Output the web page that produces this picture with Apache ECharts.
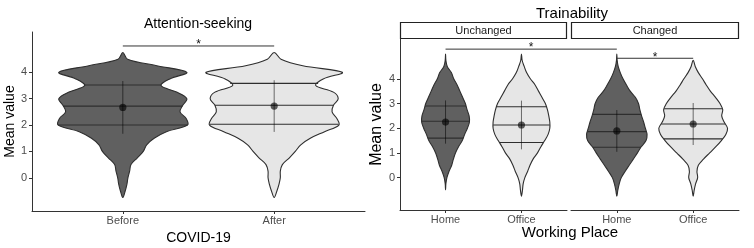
<!DOCTYPE html>
<html>
<head>
<meta charset="utf-8">
<script src="https://cdn.jsdelivr.net/npm/echarts@6/dist/echarts.min.js"></script>
<style>
  html, body { margin: 0; padding: 0; background: #fff; }
  #chart { width: 754px; height: 248px; }
</style>
</head>
<body>
<div id="chart"></div>
<script>
// density profile grid (Mean value), shared by every violin
const yGrid = [-1, -0.75, -0.5, -0.25, 0, 0.25, 0.5, 0.75, 1, 1.25, 1.5, 1.75, 2, 2.25, 2.5, 2.75, 3, 3.25, 3.5, 3.75, 4, 4.25, 4.5, 4.75, 5];
const yTicks = [0, 1, 2, 3, 4];

// Attention-seeking, by COVID-19
const covidGroups = ['Before', 'After'];
const densBefore = [0, 0, 0.035, 0.06, 0.075, 0.1, 0.12, 0.21, 0.3, 0.35, 0.46, 0.64, 0.95, 0.93, 0.84, 0.88, 0.94, 0.79, 0.56, 0.69, 0.94, 0.5, 0.07, 0, 0];
const densAfter = [0, 0, 0.04, 0.07, 0.09, 0.09, 0.12, 0.22, 0.31, 0.39, 0.53, 0.74, 0.95, 0.92, 0.85, 0.87, 0.94, 0.87, 0.61, 0.72, 1.0, 0.42, 0.1, 0, 0];
const attMean = [2.67, 2.72];
const attSd = [1.0, 0.98];
const attQ25 = [2.0, 2.03];
const attQ50 = [2.72, 2.75];
const attQ75 = [3.52, 3.58];
const attSig = [[1, 2, 5.0]]; // from, to, height
const attSigLabel = ['*'];

// Trainability, by Working Place, faceted
const facets = ['Unchanged', 'Changed'];
const placeGroups = ['Home', 'Office'];
const densHomeU = [0, 0, 0, 0.01, 0.04, 0.1, 0.18, 0.23, 0.29, 0.38, 0.49, 0.56, 0.64, 0.7, 0.69, 0.63, 0.58, 0.5, 0.42, 0.34, 0.24, 0.17, 0.05, 0.01, 0];
const densOfficeU = [0, 0, 0.03, 0.05, 0.1, 0.18, 0.25, 0.34, 0.47, 0.57, 0.68, 0.78, 0.83, 0.83, 0.8, 0.76, 0.7, 0.6, 0.5, 0.4, 0.26, 0.15, 0.08, 0.02, 0];
const densHomeC = [0, 0, 0.03, 0.07, 0.13, 0.24, 0.36, 0.48, 0.6, 0.71, 0.85, 0.88, 0.83, 0.78, 0.72, 0.67, 0.63, 0.54, 0.39, 0.28, 0.18, 0.1, 0.04, 0.01, 0];
const densOfficeC = [0, 0, 0.03, 0.07, 0.13, 0.11, 0.15, 0.3, 0.48, 0.66, 0.82, 0.95, 1.0, 0.9, 0.83, 0.86, 0.78, 0.65, 0.5, 0.38, 0.27, 0.15, 0.06, 0, 0];
const trMeanU = [2.25, 2.13];
const trMeanC = [1.89, 2.17];
const trSdU = [0.875, 0.985];
const trSdC = [0.845, 0.85];
const trQ25U = [1.6, 1.42];
const trQ50U = [2.28, 2.13];
const trQ75U = [2.9, 2.87];
const trQ25C = [1.23, 1.57];
const trQ50C = [1.86, 2.17];
const trQ75C = [2.56, 2.79];
// fromFacet, fromX, toFacet, toX, height
const trSig = [[0, 1, 1, 1, 5.2], [1, 1, 1, 2, 4.83]];
const trSigLabel = ['*', '*'];

const HALF = 0.45;
const FILLS = ['#606060', '#e6e6e6'];
const INK = '#2e2e2e';
const FONT = '"Liberation Sans", Arial, sans-serif';

const chart = echarts.init(document.getElementById('chart'));

function densAt(d, v) {
  for (let k = 0; k < yGrid.length - 1; k++) {
    if (v >= yGrid[k] && v <= yGrid[k + 1]) {
      const t = (v - yGrid[k]) / (yGrid[k + 1] - yGrid[k]);
      return d[k] + t * (d[k + 1] - d[k]);
    }
  }
  return 0;
}

function violinSeries(axis, dens, mean, sd, q25, q50, q75) {
  return {
    type: 'custom',
    xAxisIndex: axis,
    yAxisIndex: axis,
    data: mean.map((m, i) => [i + 1, m]),
    renderItem: (params, api) => {
      const i = params.dataIndex;
      const x = i + 1;
      const d = dens[i];
      let lo = 0;
      while (d[lo + 1] === 0) lo++;
      let hi = d.length - 1;
      while (d[hi - 1] === 0) hi--;
      const pts = [];
      for (let k = lo; k <= hi; k++) pts.push(api.coord([x + d[k] * HALF, yGrid[k]]));
      for (let k = hi - 1; k > lo; k--) pts.push(api.coord([x - d[k] * HALF, yGrid[k]]));
      const children = [{
        type: 'polygon',
        shape: { points: pts, smooth: 0.35 },
        style: { fill: FILLS[i], stroke: INK, lineWidth: 1.1 }
      }];
      [q25[i], q50[i], q75[i]].forEach(q => {
        const w = densAt(d, q) * HALF;
        const a = api.coord([x - w, q]);
        const b = api.coord([x + w, q]);
        children.push({
          type: 'line',
          shape: { x1: a[0], y1: a[1], x2: b[0], y2: b[1] },
          style: { stroke: INK, lineWidth: 1.1 }
        });
      });
      const top = api.coord([x, mean[i] + sd[i]]);
      const bot = api.coord([x, mean[i] - sd[i]]);
      children.push({
        type: 'line',
        shape: { x1: top[0], y1: top[1], x2: bot[0], y2: bot[1] },
        style: { stroke: '#000', opacity: 0.55, lineWidth: 1 }
      });
      const c = api.coord([x, mean[i]]);
      children.push({
        type: 'circle',
        shape: { cx: c[0], cy: c[1], r: 3.6 },
        style: { fill: '#000', opacity: 0.62 }
      });
      return { type: 'group', children };
    }
  };
}

function bracket(p1, p2, label) {
  return {
    type: 'group',
    children: [{
      type: 'line',
      shape: { x1: p1[0], y1: p1[1], x2: p2[0], y2: p2[1] },
      style: { stroke: '#333', lineWidth: 1 }
    }, {
      type: 'text',
      style: {
        text: label, x: (p1[0] + p2[0]) / 2, y: p1[1] - 1,
        align: 'center', verticalAlign: 'middle',
        font: '12px ' + FONT, fill: '#111'
      }
    }]
  };
}

function xAxisFor(grid, name) {
  return {
    type: 'value', gridIndex: grid, min: 0.4, max: 2.6,
    axisLine: { show: true, onZero: false, lineStyle: { color: '#333', width: 1 } },
    axisTick: { show: true, customValues: [1, 2], length: 3, lineStyle: { color: '#333' } },
    axisLabel: {
      customValues: [1, 2], margin: 4, fontSize: 11, color: '#4d4d4d', fontFamily: FONT,
      formatter: v => (grid === 0 ? covidGroups : placeGroups)[Math.round(v) - 1]
    },
    splitLine: { show: false },
    name: name, nameLocation: 'middle', nameGap: 16,
    nameTextStyle: { fontSize: 14, color: '#000', fontFamily: FONT }
  };
}

function yAxisFor(grid, min, max, shown, nameSize, nameGap) {
  return {
    type: 'value', gridIndex: grid, min: min, max: max,
    axisLine: { show: shown, onZero: false, lineStyle: { color: '#333', width: 1 } },
    axisTick: { show: shown, customValues: yTicks, length: 3, lineStyle: { color: '#333' } },
    axisLabel: { show: shown, customValues: yTicks, margin: 5, fontSize: 11, color: '#4d4d4d', fontFamily: FONT },
    splitLine: { show: false },
    name: shown ? 'Mean value' : '', nameLocation: 'middle', nameGap: nameGap,
    nameTextStyle: { fontSize: nameSize, color: '#000', fontFamily: FONT }
  };
}

const option = {
  animation: false,
  textStyle: { fontFamily: FONT },
  grid: [
    { left: 32, top: 32, right: 389, bottom: 37, outerBoundsMode: 'none' },
    { left: 400, top: 39, width: 167, bottom: 38, outerBoundsMode: 'none' },
    { left: 571, top: 39, width: 168, bottom: 38, outerBoundsMode: 'none' }
  ],
  xAxis: [xAxisFor(0, 'COVID-19'), xAxisFor(1, ''), xAxisFor(2, '')],
  yAxis: [
    yAxisFor(0, -1.26, 5.53, true, 14, 12),
    yAxisFor(1, -1.31, 5.61, true, 16, 7),
    yAxisFor(2, -1.31, 5.61, false, 16, 7)
  ],
  graphic: [
    { type: 'text', style: { text: 'Attention-seeking', x: 198, y: 24, align: 'center', verticalAlign: 'middle', font: '14px ' + FONT, fill: '#000' } },
    { type: 'text', style: { text: 'Trainability', x: 572, y: 14, align: 'center', verticalAlign: 'middle', font: '15px ' + FONT, fill: '#000' } },
    { type: 'rect', shape: { x: 400.5, y: 22.5, width: 166, height: 16 }, style: { fill: '#fff', stroke: '#222', lineWidth: 1.2 } },
    { type: 'rect', shape: { x: 571.5, y: 22.5, width: 167, height: 16 }, style: { fill: '#fff', stroke: '#222', lineWidth: 1.2 } },
    { type: 'text', style: { text: facets[0], x: 483.5, y: 31, align: 'center', verticalAlign: 'middle', font: '11px ' + FONT, fill: '#1a1a1a' } },
    { type: 'text', style: { text: facets[1], x: 655, y: 31, align: 'center', verticalAlign: 'middle', font: '11px ' + FONT, fill: '#1a1a1a' } },
    { type: 'text', style: { text: 'Working Place', x: 570, y: 233, align: 'center', verticalAlign: 'middle', font: '15px ' + FONT, fill: '#000' } }
  ],
  series: [
    violinSeries(0, [densBefore, densAfter], attMean, attSd, attQ25, attQ50, attQ75),
    violinSeries(1, [densHomeU, densOfficeU], trMeanU, trSdU, trQ25U, trQ50U, trQ75U),
    violinSeries(2, [densHomeC, densOfficeC], trMeanC, trSdC, trQ25C, trQ50C, trQ75C),
    {
      type: 'custom', xAxisIndex: 0, yAxisIndex: 0, data: attSig,
      renderItem: (params, api) => {
        const s = attSig[params.dataIndex];
        return bracket(api.coord([s[0], s[2]]), api.coord([s[1], s[2]]), attSigLabel[params.dataIndex]);
      }
    },
    {
      type: 'custom', xAxisIndex: 1, yAxisIndex: 1, data: trSig.map(s => [s[1], s[4]]),
      renderItem: (params) => {
        const s = trSig[params.dataIndex];
        const p1 = chart.convertToPixel({ gridIndex: 1 + s[0] }, [s[1], s[4]]);
        const p2 = chart.convertToPixel({ gridIndex: 1 + s[2] }, [s[3], s[4]]);
        return bracket(p1, p2, trSigLabel[params.dataIndex]);
      }
    }
  ]
};

chart.setOption(option);
</script>
</body>
</html>
